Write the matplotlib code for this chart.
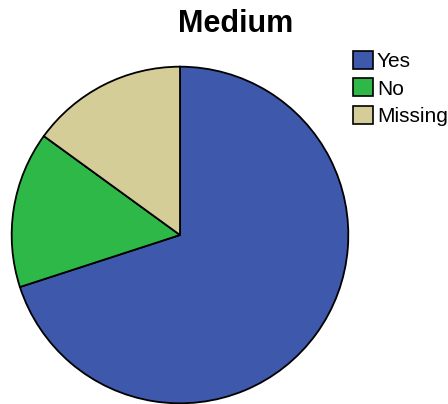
import matplotlib
matplotlib.use("Agg")
import matplotlib.pyplot as plt
from matplotlib.patches import Patch

plt.rcParams['font.family'] = ['Liberation Sans', 'DejaVu Sans']

# response counts for the "Medium" group
labels = ["Yes", "No", "Missing"]
counts = [14, 3, 3]
colors = ["#3E58AC", "#2EB848", "#D4CD98"]

W, H = 448, 404
fig = plt.figure(figsize=(W / 100, H / 100), dpi=100)

# pie occupies a 340 px square on the left
ax = fig.add_axes([10 / W, (H - 405) / H, 340 / W, 340 / H])
ax.pie(counts, colors=colors, startangle=90, counterclock=False,
       wedgeprops=dict(edgecolor="black", linewidth=1.3))
ax.set_xlim(-1.01, 1.01)
ax.set_ylim(-1.01, 1.01)
ax.set_aspect("equal")
ax.axis("off")

fig.text(236 / W, 1 - 24 / H, "Medium", ha="center", va="center",
         fontsize=22, fontweight="bold")

handles = [Patch(facecolor=c, edgecolor="black", linewidth=1.2) for c in colors]
fig.legend(handles, labels, loc="upper left",
           bbox_to_anchor=(353 / W, 1 - 51 / H),
           frameon=False, fontsize=15, borderpad=0, borderaxespad=0,
           handlelength=0.95, handleheight=0.95, handletextpad=0.2,
           labelspacing=0.35)

fig.savefig("out.png", dpi=100)
